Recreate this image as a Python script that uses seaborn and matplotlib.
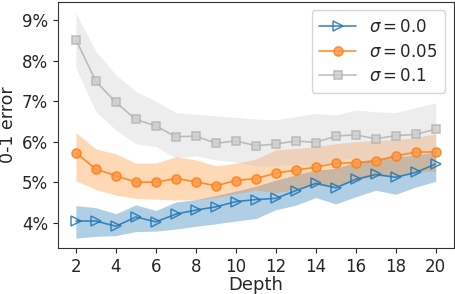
import matplotlib
matplotlib.use('Agg')
import matplotlib.pyplot as plt
from matplotlib.ticker import PercentFormatter
import numpy as np
import pandas as pd
import seaborn as sns

depth = list(range(2, 21))

# sigma = 0.0
err_s0 = [4.04, 4.04, 3.91, 4.14, 4.02, 4.21, 4.31, 4.39, 4.52, 4.57,
          4.60, 4.79, 4.97, 4.86, 5.07, 5.19, 5.12, 5.24, 5.45]
lo_s0 = [3.62, 3.66, 3.68, 3.78, 3.79, 3.84, 3.91, 3.97, 4.04, 4.10,
         4.32, 4.43, 4.62, 4.46, 4.64, 4.80, 4.70, 4.88, 5.02]
hi_s0 = [4.42, 4.37, 4.22, 4.44, 4.30, 4.51, 4.57, 4.67, 4.78, 4.90,
         5.05, 5.18, 5.30, 5.34, 5.50, 5.59, 5.63, 5.67, 5.75]

# sigma = 0.05
err_s005 = [5.73, 5.32, 5.16, 5.00, 5.00, 5.09, 5.01, 4.91, 5.04, 5.09,
            5.22, 5.30, 5.37, 5.47, 5.48, 5.52, 5.65, 5.74, 5.75]
lo_s005 = [5.03, 4.82, 4.68, 4.60, 4.58, 4.56, 4.57, 4.62, 4.72, 4.80,
           4.74, 4.82, 4.95, 4.90, 5.05, 5.15, 5.15, 5.25, 5.27]
hi_s005 = [6.22, 5.82, 5.70, 5.47, 5.47, 5.63, 5.55, 5.40, 5.47, 5.57,
           5.80, 5.83, 5.88, 5.95, 6.00, 6.03, 6.05, 6.10, 6.20]

# sigma = 0.1
err_s01 = [8.52, 7.49, 6.97, 6.55, 6.39, 6.12, 6.14, 5.96, 6.02, 5.90,
           5.94, 6.02, 5.98, 6.14, 6.17, 6.07, 6.15, 6.18, 6.31]
lo_s01 = [7.82, 6.74, 6.29, 5.95, 5.88, 5.60, 5.65, 5.55, 5.50, 5.40,
          5.40, 5.45, 5.40, 5.55, 5.60, 5.50, 5.55, 5.60, 5.70]
hi_s01 = [9.18, 8.23, 7.65, 7.24, 7.00, 6.72, 6.68, 6.64, 6.60, 6.56,
          6.54, 6.62, 6.70, 6.66, 6.78, 6.74, 6.72, 6.84, 6.96]

labels = [r'$\sigma = 0.0$', r'$\sigma = 0.05$', r'$\sigma = 0.1$']

sns.set_style('ticks')
plt.rcParams['font.family'] = ['DejaVu Sans']

fig, ax = plt.subplots(figsize=(4.56, 2.94), dpi=100)
fig.subplots_adjust(left=0.127, right=0.995, top=0.993, bottom=0.156)

series = [
    (err_s0, lo_s0, hi_s0, '#1f77b4', '>', 'none', 0.35, 7),
    (err_s005, lo_s005, hi_s005, '#ff7f0e', 'o', (1.0, 0.6, 0.3, 0.5), 0.3, 6.5),
    (err_s01, lo_s01, hi_s01, '#b3b3b3', 's', '#cfcfcf', 0.3, 6),
]

for (err, lo, hi, col, mk, mfc, falpha, ms), lab in zip(series, labels):
    df = pd.DataFrame({'depth': depth, 'err': err})
    band_col = col if col != '#b3b3b3' else '#c4c4c4'
    ax.fill_between(depth, lo, hi, color=band_col, alpha=falpha, lw=0)
    sns.lineplot(data=df, x='depth', y='err', ax=ax, color=col, marker=mk,
                 markersize=ms, mfc=mfc, mec=col, mew=1.1, lw=1.2,
                 alpha=0.85, label=lab)

ax.set_xticks(range(2, 21, 2))
ax.set_yticks([4, 5, 6, 7, 8, 9])
ax.yaxis.set_major_formatter(PercentFormatter(100, decimals=0))
ax.set_xlim(1.1, 20.9)
ax.set_ylim(3.37, 9.45)
ax.tick_params(labelsize=12)
ax.set_xlabel('Depth', fontsize=13, labelpad=0)
ax.set_ylabel('0-1 error', fontsize=12.5, labelpad=4)
for sp in ax.spines.values():
    sp.set_visible(True)
    sp.set_color('#333333')
ax.legend(loc='upper right', fontsize=12, handlelength=2.2, borderpad=0.45,
          labelspacing=0.4)

fig.savefig('out.png', dpi=100)
